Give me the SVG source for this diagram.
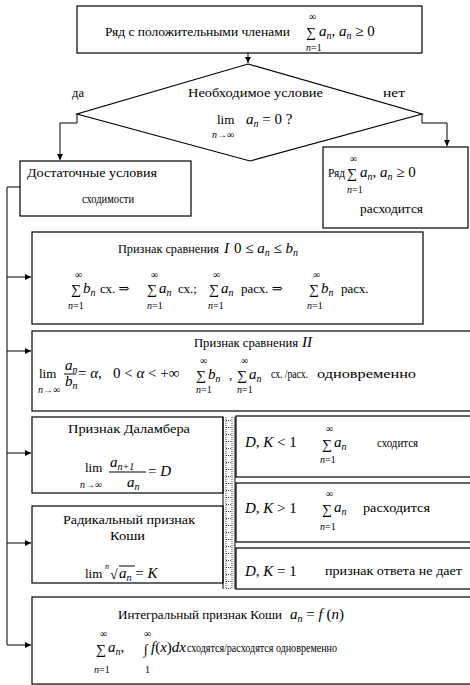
<svg xmlns="http://www.w3.org/2000/svg" width="470" height="685" viewBox="0 0 470 685">
  <style>
    .box { fill: #fff; stroke: #000; stroke-width: 1.2; }
    .ln { fill: none; stroke: #000; stroke-width: 1; }
    .tx { font-family: "Liberation Serif", "DejaVu Serif", serif; font-size: 13px; fill: #000; }
    .m { font-family: "Liberation Serif", "DejaVu Serif", serif; font-size: 15px; font-style: italic; fill: #000; }
    .r { font-style: normal; }
    .i { font-style: italic; }
    .sb { font-size: 10px; }
    .sig { font-family: "Liberation Serif", "DejaVu Serif", serif; font-size: 14px; fill: #000; }
    .lo { font-family: "Liberation Serif", "DejaVu Serif", serif; font-size: 10px; fill: #000; }
    .dot { stroke: #000; stroke-width: 0.7; stroke-dasharray: 1 1; fill: none; }
  </style>
  <defs>
    <marker id="ah" viewBox="0 0 8 8" refX="8" refY="4" markerWidth="6" markerHeight="6" orient="auto">
      <path d="M0,0 L8,4 L0,8 z" fill="#000"/>
    </marker>
    <pattern id="ladder" x="223" y="417" width="12" height="7" patternUnits="userSpaceOnUse">
      <line x1="3" y1="3.5" x2="9" y2="3.5" class="dot"/>
    </pattern>
  </defs>

  <rect width="470" height="685" fill="#fff"/>

  <!-- connectors -->
  <g id="connectors">
    <path class="ln" d="M248,53 V63" marker-end="url(#ah)"/>
    <path class="ln" d="M77,114 V123 H60 V160" marker-end="url(#ah)"/>
    <path class="ln" d="M422,114 V123 H447 V146" marker-end="url(#ah)"/>
    <path class="ln" d="M20,187 H7 V645"/>
    <path class="ln" d="M7,277 H31" marker-end="url(#ah)"/>
    <path class="ln" d="M7,351 H31" marker-end="url(#ah)"/>
    <path class="ln" d="M7,453 H31" marker-end="url(#ah)"/>
    <path class="ln" d="M7,543 H31" marker-end="url(#ah)"/>
    <path class="ln" d="M7,645 H31" marker-end="url(#ah)"/>
  </g>

  <!-- series with positive terms -->
  <g id="start">
    <rect class="box" x="77" y="6" width="345" height="47"/>
    <text class="tx" x="105" y="36" textLength="185" lengthAdjust="spacingAndGlyphs">Ряд с положительными членами</text>
    <text class="lo" x="309" y="20">∞</text>
    <text class="sig" x="306" y="37">∑</text>
    <text class="m" x="319" y="36">a<tspan class="sb" dy="3">n</tspan><tspan class="r" dy="-3">, </tspan>a<tspan class="sb" dy="3">n</tspan><tspan class="r" dy="-3"> ≥ 0</tspan></text>
    <text class="lo" x="306" y="51"><tspan class="i">n</tspan>=1</text>
  </g>

  <!-- necessary condition -->
  <g id="necessary">
    <polygon class="box" points="248,64 422,114 250,161 77,114"/>
    <text class="tx" x="188" y="97" textLength="135" lengthAdjust="spacingAndGlyphs">Необходимое  условие</text>
    <text class="tx" x="217" y="124">lim</text>
    <text class="m" x="246" y="124">a<tspan class="sb" dy="3">n</tspan><tspan class="r" dy="-3"> = 0 ?</tspan></text>
    <text class="lo" x="212" y="138"><tspan class="i">n</tspan>→∞</text>
    <text class="tx" x="72" y="97" textLength="12" lengthAdjust="spacingAndGlyphs">да</text>
    <text class="tx" x="383" y="97" textLength="22" lengthAdjust="spacingAndGlyphs">нет</text>
  </g>

  <!-- sufficient conditions -->
  <g id="sufficient">
    <rect class="box" x="20" y="161" width="171" height="55"/>
    <text class="tx" x="27" y="177" textLength="130" lengthAdjust="spacingAndGlyphs">Достаточные условия</text>
    <text class="tx" x="82" y="203" textLength="52" lengthAdjust="spacingAndGlyphs">сходимости</text>
  </g>

  <!-- divergent series -->
  <g id="diverges">
    <rect class="box" x="323" y="147" width="145" height="81"/>
    <text class="tx" x="328" y="177" textLength="17" lengthAdjust="spacingAndGlyphs">Ряд</text>
    <text class="lo" x="350" y="162">∞</text>
    <text class="sig" x="347" y="178">∑</text>
    <text class="m" x="360" y="177">a<tspan class="sb" dy="3">n</tspan><tspan class="r" dy="-3">, </tspan>a<tspan class="sb" dy="3">n</tspan><tspan class="r" dy="-3"> ≥ 0</tspan></text>
    <text class="lo" x="347" y="193"><tspan class="i">n</tspan>=1</text>
    <text class="tx" x="360" y="213" textLength="63" lengthAdjust="spacingAndGlyphs">расходится</text>
  </g>

  <!-- comparison test I -->
  <g id="compare1">
    <rect class="box" x="32" y="232" width="391" height="92"/>
    <text class="tx" x="118" y="253" textLength="101" lengthAdjust="spacingAndGlyphs">Признак сравнения</text>
    <text class="m" x="224" y="253">I<tspan class="r" dx="5">0 ≤ </tspan>a<tspan class="sb" dy="3">n</tspan><tspan class="r" dy="-3"> ≤ </tspan>b<tspan class="sb" dy="3">n</tspan></text>
    <text class="lo" x="75" y="278">∞</text>
    <text class="sig" x="71" y="294">∑</text>
    <text class="m" x="83" y="293">b<tspan class="sb" dy="3">n</tspan></text>
    <text class="tx" x="100" y="293">сх. ⇒</text>
    <text class="lo" x="68" y="309"><tspan class="i">n</tspan>=1</text>
    <text class="lo" x="151" y="278">∞</text>
    <text class="sig" x="147" y="294">∑</text>
    <text class="m" x="159" y="293">a<tspan class="sb" dy="3">n</tspan></text>
    <text class="tx" x="178" y="293">сх.;</text>
    <text class="lo" x="147" y="309"><tspan class="i">n</tspan>=1</text>
    <text class="lo" x="213" y="278">∞</text>
    <text class="sig" x="209" y="294">∑</text>
    <text class="m" x="221" y="293">a<tspan class="sb" dy="3">n</tspan></text>
    <text class="tx" x="241" y="293">расх. ⇒</text>
    <text class="lo" x="208" y="309"><tspan class="i">n</tspan>=1</text>
    <text class="lo" x="313" y="278">∞</text>
    <text class="sig" x="309" y="294">∑</text>
    <text class="m" x="321" y="293">b<tspan class="sb" dy="3">n</tspan></text>
    <text class="tx" x="341" y="293">расх.</text>
    <text class="lo" x="307" y="309"><tspan class="i">n</tspan>=1</text>
  </g>

  <!-- comparison test II -->
  <g id="compare2">
    <rect class="box" x="32" y="331" width="442" height="80"/>
    <text class="tx" x="194" y="347" textLength="104" lengthAdjust="spacingAndGlyphs">Признак сравнения</text>
    <text class="m" x="302" y="347">II</text>
    <text class="tx" x="39" y="378">lim</text>
    <text class="lo" x="38" y="393"><tspan class="i">n</tspan>→∞</text>
    <text class="m" x="65" y="370">a<tspan class="sb" dy="3">n</tspan></text>
    <line class="ln" x1="64" y1="374" x2="76" y2="374"/>
    <text class="m" x="65" y="386">b<tspan class="sb" dy="3">n</tspan></text>
    <text class="m" x="78" y="378"><tspan class="r">= </tspan>α<tspan class="r">,</tspan></text>
    <text class="m" x="113" y="378"><tspan class="r">0 &lt; </tspan>α<tspan class="r"> &lt; +∞</tspan></text>
    <text class="lo" x="200" y="364">∞</text>
    <text class="sig" x="196" y="380">∑</text>
    <text class="m" x="208" y="379">b<tspan class="sb" dy="3">n</tspan></text>
    <text class="tx" x="229" y="379">,</text>
    <text class="lo" x="196" y="393"><tspan class="i">n</tspan>=1</text>
    <text class="lo" x="241" y="364">∞</text>
    <text class="sig" x="237" y="380">∑</text>
    <text class="m" x="249" y="379">a<tspan class="sb" dy="3">n</tspan></text>
    <text class="lo" x="237" y="393"><tspan class="i">n</tspan>=1</text>
    <text class="tx" x="271" y="378" textLength="37" lengthAdjust="spacingAndGlyphs">сх. /расх.</text>
    <text class="tx" x="317" y="378" textLength="99" lengthAdjust="spacingAndGlyphs">одновременно</text>
  </g>

  <!-- d'Alembert test -->
  <g id="dalembert">
    <rect class="box" x="32" y="417" width="191" height="76"/>
    <text class="tx" x="68" y="433" textLength="122" lengthAdjust="spacingAndGlyphs">Признак Даламбера</text>
    <text class="tx" x="85" y="472">lim</text>
    <text class="lo" x="80" y="488"><tspan class="i">n</tspan>→∞</text>
    <text class="m" x="110" y="467">a<tspan class="sb" dy="3">n+1</tspan></text>
    <line class="ln" x1="109" y1="472" x2="146" y2="472"/>
    <text class="m" x="127" y="487">a<tspan class="sb" dy="3">n</tspan></text>
    <text class="m" x="148" y="476"><tspan class="r">= </tspan>D</text>
  </g>

  <!-- root test -->
  <g id="cauchy-root">
    <rect class="box" x="32" y="506" width="191" height="77"/>
    <text class="tx" x="63" y="524" textLength="132" lengthAdjust="spacingAndGlyphs">Радикальный признак</text>
    <text class="tx" x="110" y="540" textLength="35" lengthAdjust="spacingAndGlyphs">Коши</text>
    <text class="tx" x="85" y="578">lim</text>
    <text class="lo" x="105" y="569"><tspan class="i" font-size="8">n</tspan></text>
    <text class="sig" x="110" y="579">√</text>
    <line class="ln" x1="119" y1="566" x2="135" y2="566"/>
    <text class="m" x="119" y="578">a<tspan class="sb" dy="3">n</tspan><tspan class="r" dy="-3"> = </tspan>K</text>
  </g>

  <!-- separator between tests and outcomes -->
  <g id="separator">
    <rect x="223" y="417" width="12" height="172" fill="url(#ladder)"/>
    <line class="ln" x1="223" y1="417" x2="223" y2="589"/>
    <line class="ln" x1="235" y1="417" x2="235" y2="589"/>
    <line class="dot" x1="226" y1="417" x2="226" y2="589"/>
    <line class="dot" x1="232" y1="417" x2="232" y2="589"/>
  </g>

  <!-- outcomes -->
  <g id="converges">
    <rect class="box" x="236" y="416" width="240" height="61"/>
    <text class="m" x="245" y="447">D<tspan class="r">, </tspan>K<tspan class="r"> &lt; 1</tspan></text>
    <text class="lo" x="326" y="432">∞</text>
    <text class="sig" x="322" y="449">∑</text>
    <text class="m" x="334" y="447">a<tspan class="sb" dy="3">n</tspan></text>
    <text class="lo" x="320" y="463"><tspan class="i">n</tspan>=1</text>
    <text class="tx" x="377" y="447" textLength="41" lengthAdjust="spacingAndGlyphs">сходится</text>
  </g>
  <g id="diverges-dk">
    <rect class="box" x="236" y="483" width="240" height="59"/>
    <text class="m" x="245" y="513">D<tspan class="r">, </tspan>K<tspan class="r"> &gt; 1</tspan></text>
    <text class="lo" x="326" y="497">∞</text>
    <text class="sig" x="322" y="514">∑</text>
    <text class="m" x="334" y="512">a<tspan class="sb" dy="3">n</tspan></text>
    <text class="lo" x="320" y="530"><tspan class="i">n</tspan>=1</text>
    <text class="tx" x="363" y="512" textLength="67" lengthAdjust="spacingAndGlyphs">расходится</text>
  </g>
  <g id="inconclusive">
    <rect class="box" x="236" y="548" width="240" height="41"/>
    <text class="m" x="245" y="576">D<tspan class="r">, </tspan>K<tspan class="r"> = 1</tspan></text>
    <text class="tx" x="325" y="575" textLength="137" lengthAdjust="spacingAndGlyphs">признак ответа не дает</text>
  </g>

  <!-- integral test -->
  <g id="integral">
    <rect class="box" x="32" y="597" width="442" height="87"/>
    <text class="tx" x="118" y="619" textLength="164" lengthAdjust="spacingAndGlyphs">Интегральный  признак Коши</text>
    <text class="m" x="290" y="619">a<tspan class="sb" dy="3">n</tspan><tspan class="r" dy="-3"> = </tspan>f<tspan class="r"> (</tspan>n<tspan class="r">)</tspan></text>
    <text class="lo" x="100" y="637">∞</text>
    <text class="sig" x="96" y="654">∑</text>
    <text class="m" x="108" y="652">a<tspan class="sb" dy="3">n</tspan><tspan class="r" dy="-3">,</tspan></text>
    <text class="lo" x="94" y="673"><tspan class="i">n</tspan>=1</text>
    <text class="lo" x="144" y="637">∞</text>
    <text class="sig" x="144" y="654">∫</text>
    <text class="m" x="151" y="652">f<tspan class="r">(</tspan>x<tspan class="r">)</tspan>dx</text>
    <text class="lo" x="145" y="673">1</text>
    <text class="tx" x="187" y="652" textLength="150" lengthAdjust="spacingAndGlyphs">сходятся/расходятся одновременно</text>
  </g>
</svg>
